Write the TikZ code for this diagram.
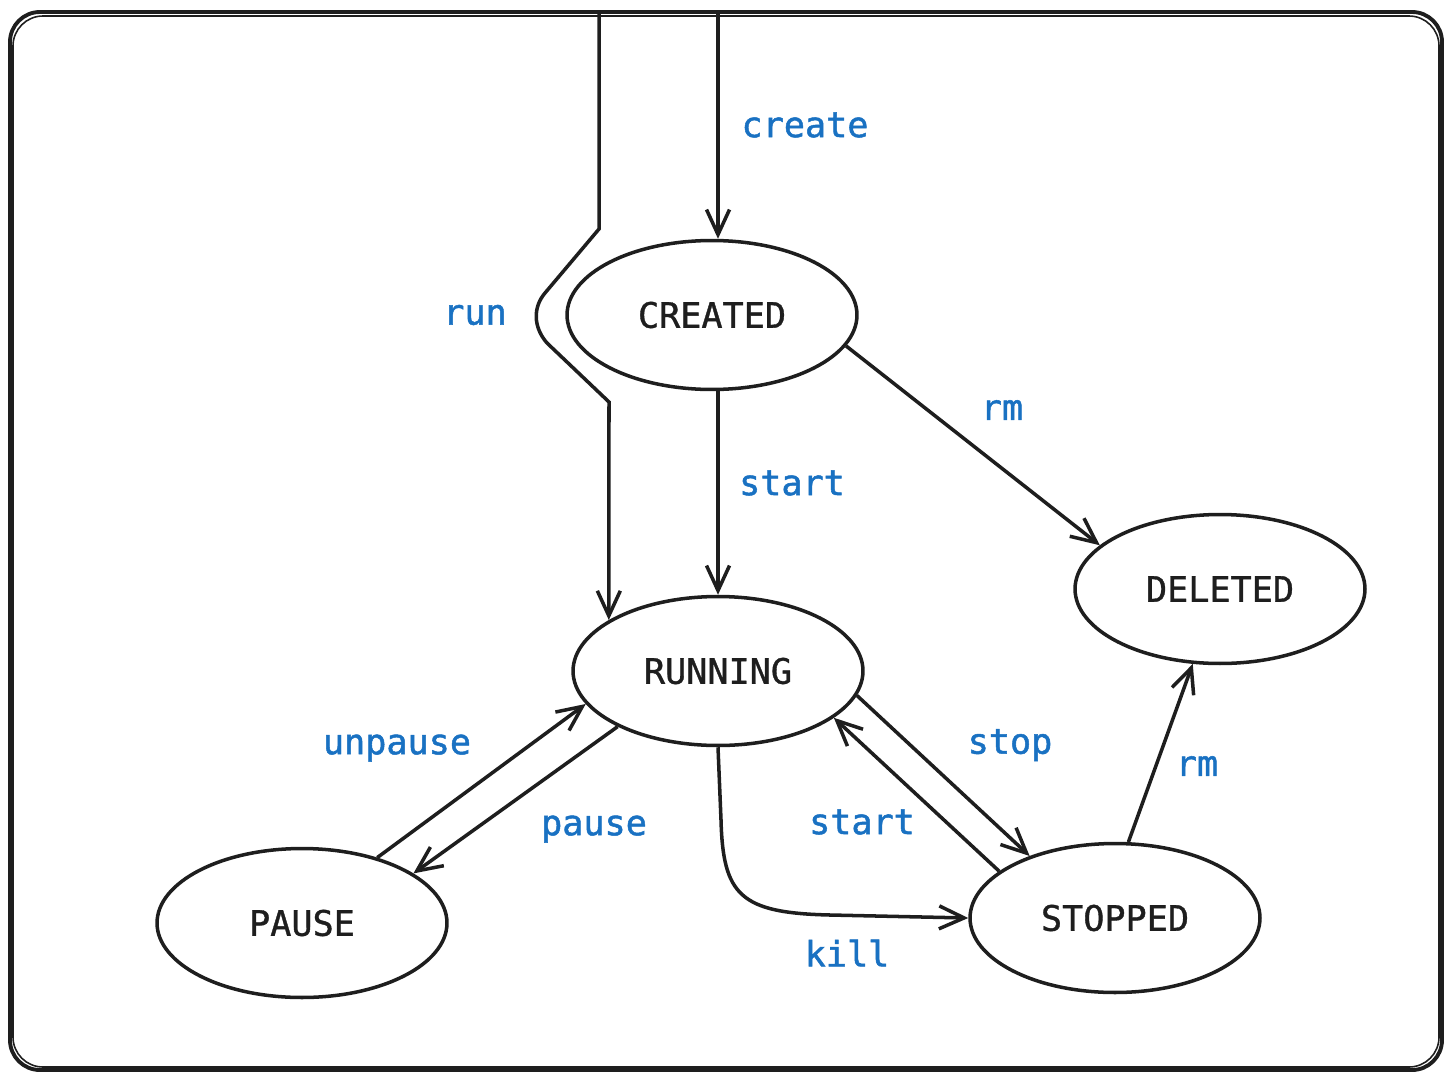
\documentclass[tikz,border=0pt]{standalone}
\usepackage{fontspec}
\setmonofont{DejaVu Sans Mono}
\newfontfamily\lblfont[FakeBold=1.4]{DejaVu Sans Mono}
\newfontfamily\statefont[FakeBold=1.0]{DejaVu Sans Mono}
\usetikzlibrary{shapes.geometric,arrows.meta,calc}
\definecolor{ink}{HTML}{1E1E1E}
\definecolor{lbl}{HTML}{1971C2}
\tikzset{
  state/.style={ellipse,draw=ink,line width=2pt,minimum width=5.8cm,minimum height=2.98cm,inner sep=0pt,
    font=\statefont\fontsize{20}{24}\selectfont,text=ink},
  arr/.style={draw=ink,line width=2pt,-{Straight Barb[length=0.5cm,width=0.46cm,line width=2pt]}},
  conn/.style={draw=ink,line width=2pt},
  tag/.style={font=\lblfont\fontsize{20}{24}\selectfont,text=lbl,inner sep=0pt},
}
\begin{document}
\begin{tikzpicture}[x=0.02cm,y=-0.02cm]
\useasboundingbox (0,0) rectangle (1452,1081);
% frame
\draw[ink,line width=2.2pt,rounded corners=0.6cm] (10,12) rectangle (1442,1070);
\draw[ink,line width=0.9pt,rounded corners=0.6cm] (13,16) rectangle (1439,1067);
% states
\node[state] (CREATED) at (712,315) {CREATED};
\node[state] (RUNNING) at (718,671) {RUNNING};
\node[state] (DELETED) at (1220,589) {DELETED};
\node[state] (PAUSE) at (302,923) {PAUSE};
\node[state] (STOPPED) at (1115,918) {STOPPED};
% free ends
\coordinate (createTop) at (718,14);
\coordinate (runTop) at (599,14);
% create
\draw[arr] (createTop) -- (createTop |- CREATED.north);
% run
\draw[arr] (runTop) -- (599,229) -- (545,293) .. controls (533,307) and (533,327) .. (547,343) -- (609,402) -- (RUNNING.155 |- 0,620);
% start (created -> running)
\draw[arr] (CREATED.south -| RUNNING.north) -- (RUNNING.north);
% rm created -> deleted
\draw[arr] (CREATED.-13) -- (DELETED.160);
% rm stopped -> deleted
\draw[arr] (STOPPED.80) -- (DELETED.250);
% unpause
\draw[arr] (PAUSE.41) -- (RUNNING.-166);
% pause
\draw[arr] (RUNNING.209) -- (PAUSE.24);
% stop
\draw[arr] (RUNNING.-10) -- (STOPPED.144);
% start stopped -> running
\draw[arr] (STOPPED.158) -- (RUNNING.-22);
% kill
\draw[arr] (RUNNING.south) -- (721,820) .. controls (723,895) and (740,913) .. (830,915) -- (STOPPED.west);
% labels
\node[tag] (tcreate) at (805,125) {create};
\node[tag] (trun) at (475,315) {run};
\node[tag] (tstart1) at (792,483) {start};
\node[tag] (trm1) at (1002,410) {rm};
\node[tag] (tunpause) at (397,748) {unpause};
\node[tag] (tpause) at (594,829) {pause};
\node[tag] (tstop) at (1010,745) {stop};
\node[tag] (tstart2) at (862,822) {start};
\node[tag] (trm2) at (1197,766) {rm};
\node[tag] (tkill) at (847,953) {kill};
\end{tikzpicture}
\end{document}
